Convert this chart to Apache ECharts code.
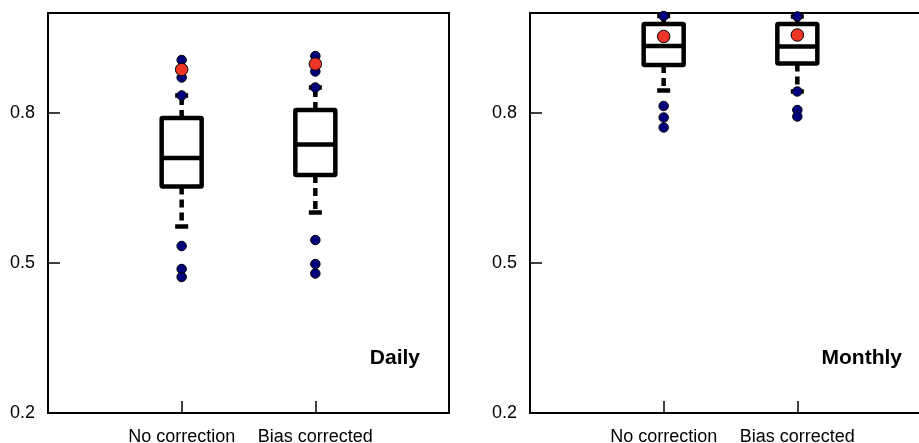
<!DOCTYPE html>
<html>
<head>
<meta charset="utf-8">
<script src="https://cdn.jsdelivr.net/npm/echarts@6/dist/echarts.min.js"></script>
<style>
html,body{margin:0;padding:0;background:#fff;overflow:hidden;}
#chart{width:919px;height:443px;}
</style>
</head>
<body>
<div id="chart"></div>
<script>
// ---- data ----
const categories = ['No correction', 'Bias corrected'];
const yTicks = [0.2, 0.5, 0.8];
const panelTitles = ['Daily', 'Monthly'];
// [lower whisker, Q1, median, Q3, upper whisker]
const dailyBoxes = [
  [0.573, 0.653, 0.710, 0.790, 0.835],
  [0.601, 0.676, 0.737, 0.806, 0.851]
];
const dailyPoints = [
  [0.906, 0.871, 0.835, 0.534, 0.488, 0.472],
  [0.914, 0.883, 0.851, 0.546, 0.498, 0.479]
];
const dailyMarks = [0.887, 0.898];
const monthlyBoxes = [
  [0.845, 0.896, 0.934, 0.978, 0.994],
  [0.843, 0.899, 0.933, 0.978, 0.993]
];
const monthlyPoints = [
  [0.994, 0.814, 0.791, 0.771],
  [0.993, 0.843, 0.806, 0.793]
];
const monthlyMarks = [0.953, 0.956];

// ---- chart ----
const FONT = '"Liberation Sans", Arial, Helvetica, sans-serif';
const chart = echarts.init(document.getElementById('chart'));

function renderBox(params, api) {
  const x = api.value(0);
  const lo = api.coord([x, api.value(1)]);
  const q1 = api.coord([x, api.value(2)]);
  const md = api.coord([x, api.value(3)]);
  const q3 = api.coord([x, api.value(4)]);
  const hi = api.coord([x, api.value(5)]);
  const cx = lo[0];
  const half = 20, cap = 6.5;
  const solid = {stroke: '#000', lineWidth: 4.5, lineCap: 'butt'};
  const dashed = {stroke: '#000', lineWidth: 4.5, lineDash: [8, 5], lineCap: 'butt'};
  return {
    type: 'group',
    children: [
      {type: 'line', shape: {x1: cx, y1: q3[1], x2: cx, y2: hi[1]}, style: dashed},
      {type: 'line', shape: {x1: cx, y1: q1[1], x2: cx, y2: lo[1]}, style: dashed},
      {type: 'line', shape: {x1: cx - cap, y1: hi[1], x2: cx + cap, y2: hi[1]}, style: solid},
      {type: 'line', shape: {x1: cx - cap, y1: lo[1], x2: cx + cap, y2: lo[1]}, style: solid},
      {type: 'rect', shape: {x: cx - half, y: q3[1], width: 2 * half, height: q1[1] - q3[1], r: 1},
        style: {fill: '#fff', stroke: '#000', lineWidth: 4.5}},
      {type: 'line', shape: {x1: cx - half, y1: md[1], x2: cx + half, y2: md[1]}, style: solid}
    ]
  };
}

function boxData(boxes) {
  return boxes.map((b, i) => [i + 1].concat(b));
}
function pointData(points) {
  const out = [];
  points.forEach((arr, i) => arr.forEach(v => out.push([i + 1, v])));
  return out;
}
function markData(marks) {
  return marks.map((v, i) => [i + 1, v]);
}

const grids = [
  {left: 48, top: 13, width: 401, height: 400},
  {left: 530, top: 13, width: 401, height: 400}
];

function xAxis(gi) {
  return {
    type: 'value', gridIndex: gi, min: 0, max: 3,
    axisLine: {show: true, onZero: false, lineStyle: {color: '#000', width: 2}},
    axisTick: {show: true, inside: true, length: 12, customValues: [1, 2], lineStyle: {color: '#000', width: 1.5}},
    axisLabel: {show: true, customValues: [1, 2], formatter: v => categories[Math.round(v) - 1] || '',
      color: '#000', fontSize: 18, fontFamily: FONT, margin: 15},
    splitLine: {show: false}
  };
}
function yAxis(gi) {
  return {
    type: 'value', gridIndex: gi, min: 0.2, max: 1.0,
    axisLine: {show: true, onZero: false, lineStyle: {color: '#000', width: 2}},
    axisTick: {show: true, inside: true, length: 12, customValues: yTicks, lineStyle: {color: '#000', width: 1.5}},
    axisLabel: {show: true, customValues: yTicks, formatter: v => v.toFixed(1),
      color: '#000', fontSize: 18, fontFamily: FONT, margin: 13},
    splitLine: {show: false}
  };
}

const panels = [
  {boxes: dailyBoxes, points: dailyPoints, marks: dailyMarks},
  {boxes: monthlyBoxes, points: monthlyPoints, marks: monthlyMarks}
];

const series = [];
panels.forEach((p, gi) => {
  series.push({
    type: 'custom', xAxisIndex: gi, yAxisIndex: gi, renderItem: renderBox,
    data: boxData(p.boxes), encode: {x: 0, y: [1, 2, 3, 4, 5]}, z: 2, silent: true, clip: false
  });
  series.push({
    type: 'scatter', xAxisIndex: gi, yAxisIndex: gi, data: pointData(p.points),
    symbol: 'circle', symbolSize: 9.5, z: 3, clip: false, silent: true,
    itemStyle: {color: '#00007f', borderColor: '#000', borderWidth: 1, opacity: 1}
  });
  series.push({
    type: 'scatter', xAxisIndex: gi, yAxisIndex: gi, data: markData(p.marks),
    symbol: 'circle', symbolSize: 12.5, z: 4, clip: false, silent: true,
    itemStyle: {color: '#ee3526', borderColor: '#000', borderWidth: 1, opacity: 1}
  });
});

chart.setOption({
  animation: false,
  backgroundColor: '#fff',
  grid: grids.map(g => Object.assign({show: true, borderColor: '#000', borderWidth: 2,
    backgroundColor: 'transparent', containLabel: false, outerBoundsMode: 'none'}, g)),
  xAxis: [xAxis(0), xAxis(1)],
  yAxis: [yAxis(0), yAxis(1)],
  series: series,
  graphic: [
    {type: 'text', x: 420, y: 358, style: {text: panelTitles[0], textAlign: 'right', textVerticalAlign: 'middle',
      font: 'bold 21px ' + FONT, fill: '#000'}},
    {type: 'text', x: 902, y: 358, style: {text: panelTitles[1], textAlign: 'right', textVerticalAlign: 'middle',
      font: 'bold 21px ' + FONT, fill: '#000'}}
  ]
});
</script>
</body>
</html>
